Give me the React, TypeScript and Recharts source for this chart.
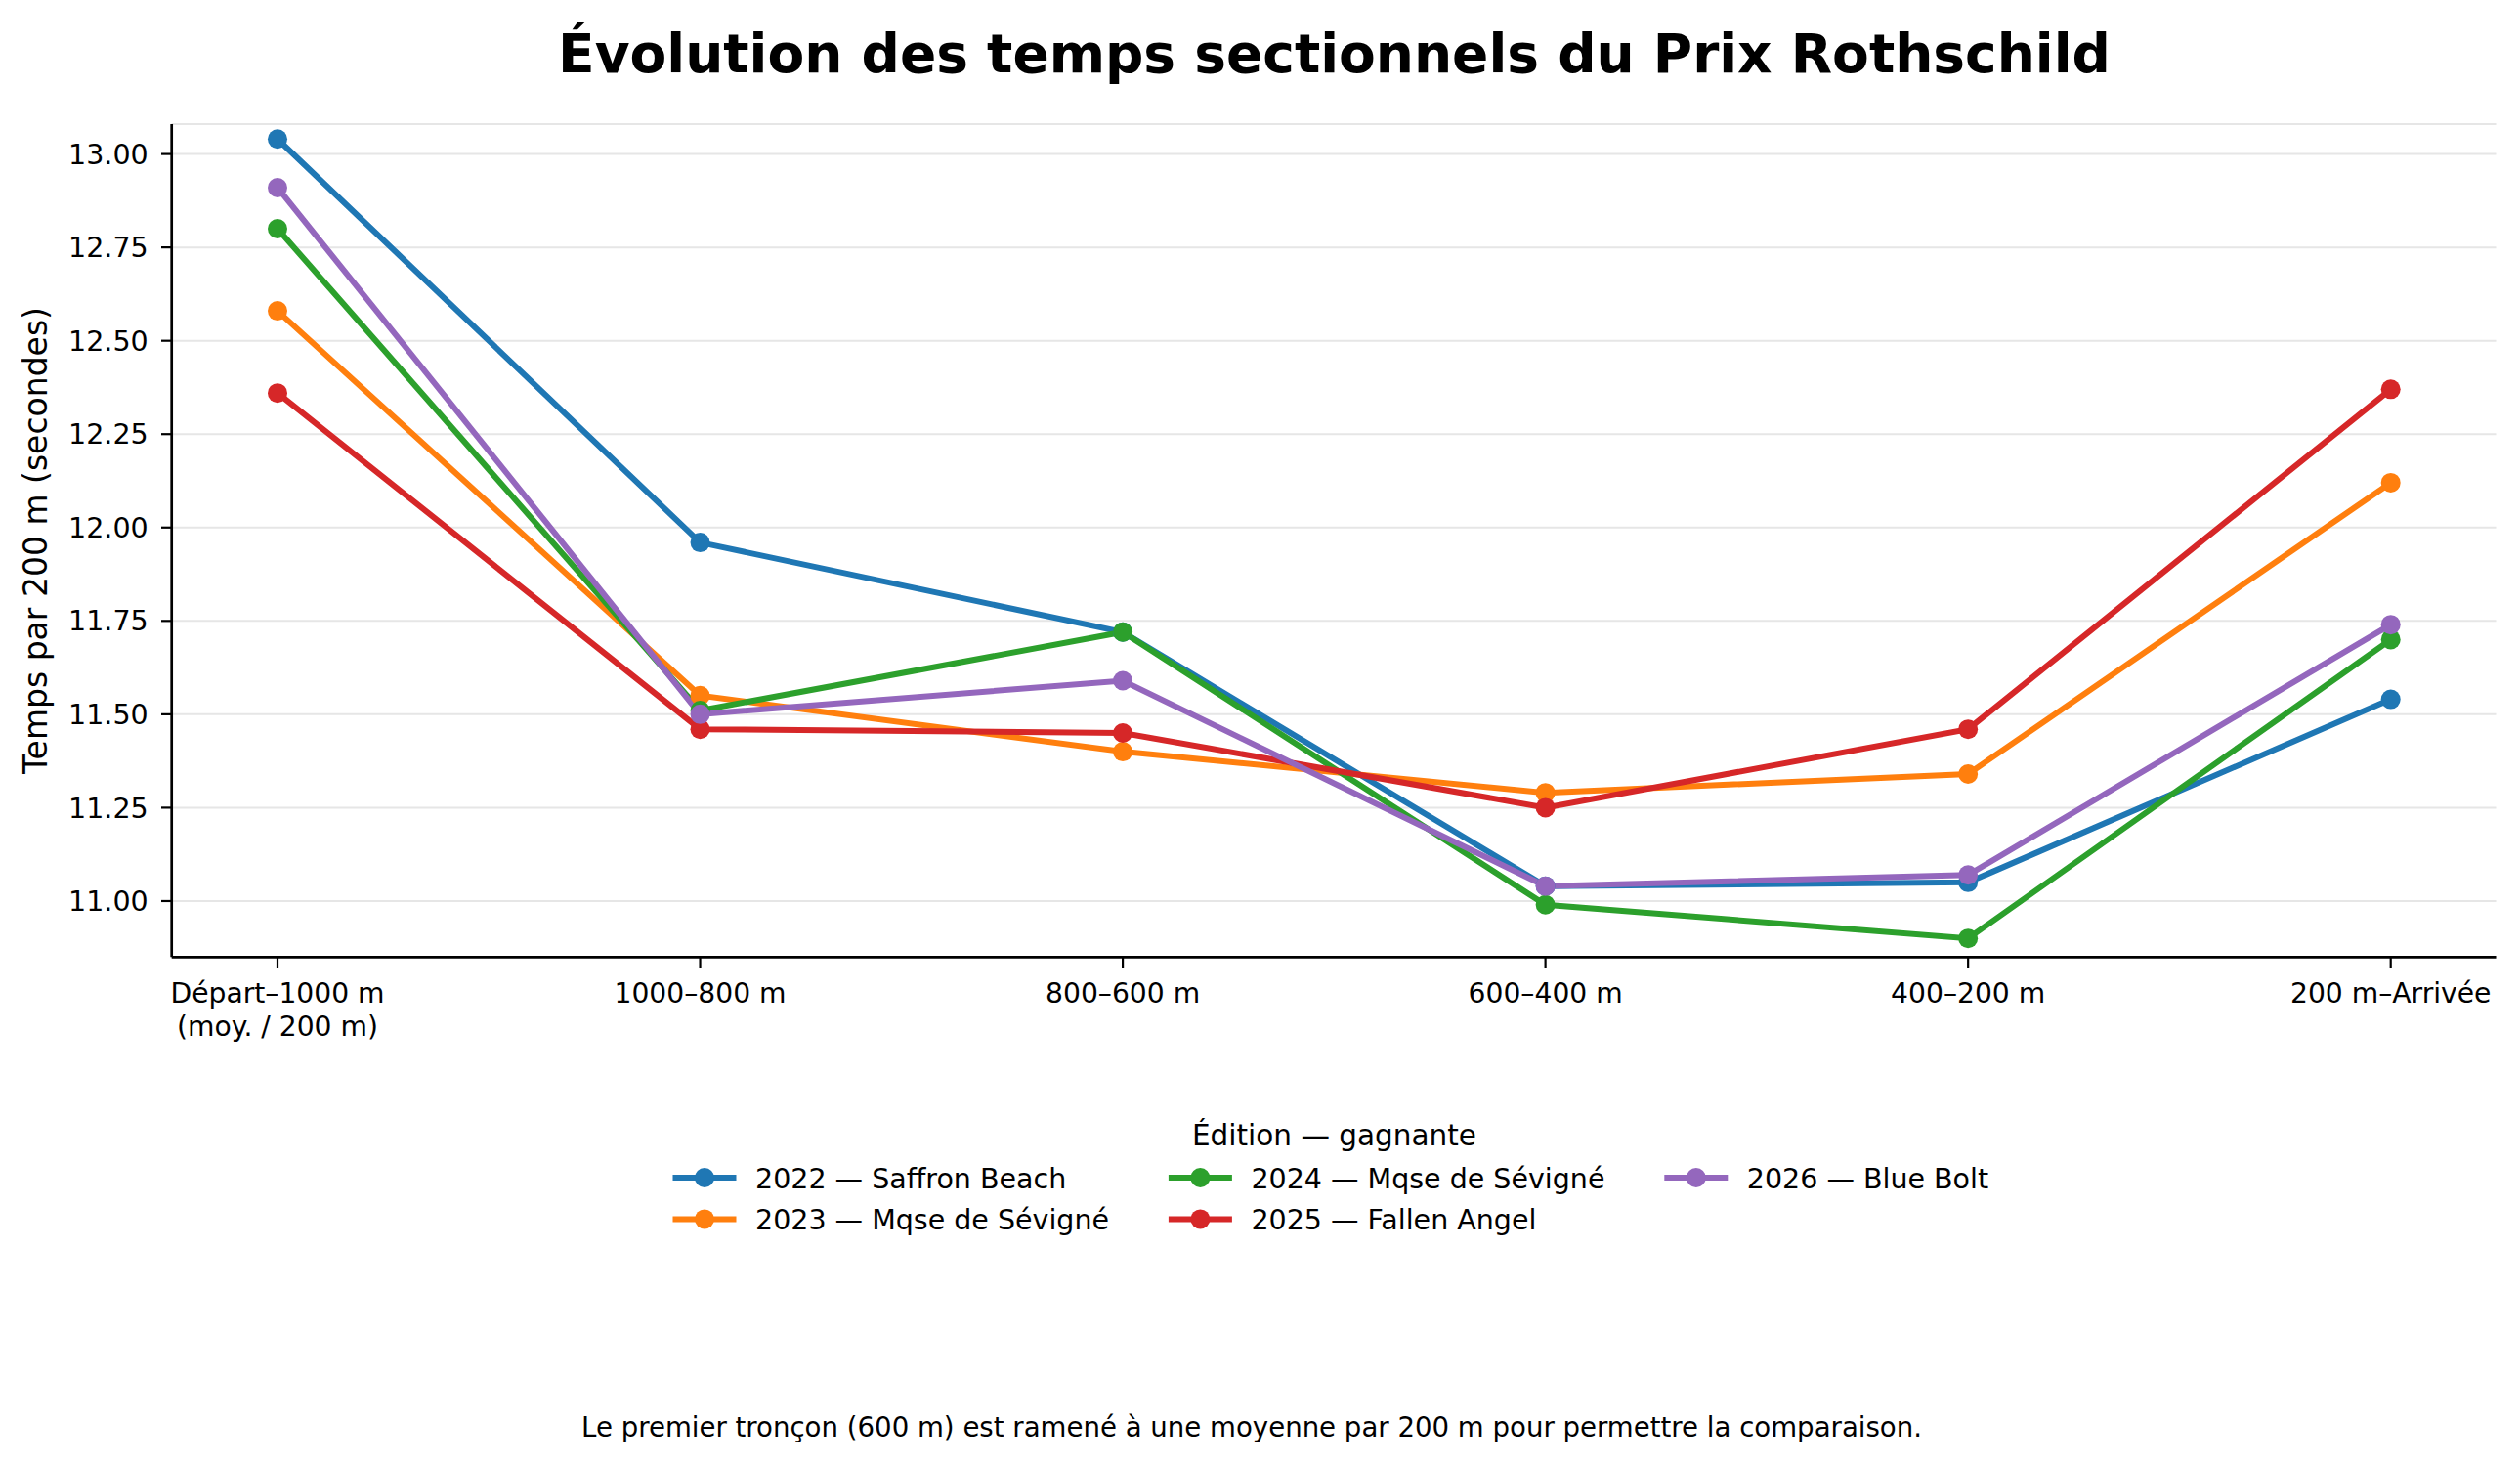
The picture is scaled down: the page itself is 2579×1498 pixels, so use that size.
import React from 'react';
import { LineChart, Line, XAxis, YAxis, CartesianGrid, Legend } from 'recharts';

// Sections of the race (x axis)
const SECTIONS = [
  'Départ–1000 m\n(moy. / 200 m)',
  '1000–800 m',
  '800–600 m',
  '600–400 m',
  '400–200 m',
  '200 m–Arrivée',
];

// Seconds per 200 m, one list per edition
const T2022 = [13.04, 11.96, 11.72, 11.04, 11.05, 11.54];
const T2023 = [12.58, 11.55, 11.40, 11.29, 11.34, 12.12];
const T2024 = [12.80, 11.51, 11.72, 10.99, 10.90, 11.70];
const T2025 = [12.36, 11.46, 11.45, 11.25, 11.46, 12.37];
const T2026 = [12.91, 11.50, 11.59, 11.04, 11.07, 11.74];

const EDITIONS = [
  '2022 — Saffron Beach',
  '2023 — Mqse de Sévigné',
  '2024 — Mqse de Sévigné',
  '2025 — Fallen Angel',
  '2026 — Blue Bolt',
];

const Y_TICKS = [11, 11.25, 11.5, 11.75, 12, 12.25, 12.5, 12.75, 13];

const COLORS = ['#1f77b4', '#ff7f0e', '#2ca02c', '#d62728', '#9467bd'];
const FONT = '"DejaVu Sans", sans-serif';

const SERIES = [T2022, T2023, T2024, T2025, T2026].map((values, i) => ({
  key: `e${i}`,
  name: EDITIONS[i],
  color: COLORS[i],
  values,
}));

const data = SECTIONS.map((section, i) => {
  const row: Record<string, string | number> = { section };
  SERIES.forEach((s) => {
    row[s.key] = s.values[i];
  });
  return row;
});

const SectionTick = ({ x, y, payload }: any) => {
  const lines = String(payload.value).split('\n');
  return (
    <text x={x} y={y} textAnchor="middle" fontSize={28.2} fill="#000" fontFamily={FONT}>
      {lines.map((l, i) => (
        <tspan key={i} x={x} dy={i === 0 ? 35.7 : 34.3}>
          {l}
        </tspan>
      ))}
    </text>
  );
};

const YLabel = () => (
  <text
    x={36}
    y={553}
    transform="rotate(-90, 36, 553)"
    textAnchor="middle"
    dominantBaseline="central"
    fontSize={33}
    fill="#000"
    fontFamily={FONT}
  >
    Temps par 200 m (secondes)
  </text>
);

// matplotlib-like legend: 3 columns, filled column by column
const EditionLegend = ({ payload }: any) => {
  const items = payload ?? [];
  const perCol = Math.ceil(items.length / 3);
  return (
    <svg width={2579} height={160} style={{ display: 'block' }}>
      <text x={1365.5} y={41.7} textAnchor="middle" fontSize={29.5} fill="#000" fontFamily={FONT}>
        Édition — gagnante
      </text>
      {items.map((entry: any, i: number) => {
        const col = Math.floor(i / perCol);
        const row = i % perCol;
        const x0 = 688.5 + col * 507.4;
        const cy = 75 + row * 42.4;
        return (
          <g key={entry.value}>
            <line x1={x0} x2={x0 + 65} y1={cy} y2={cy} stroke={entry.color} strokeWidth={6} />
            <circle cx={x0 + 32.5} cy={cy} r={10} fill={entry.color} />
            <text x={x0 + 84.5} y={cy + 11} fontSize={28.5} fill="#000" fontFamily={FONT}>
              {entry.value}
            </text>
          </g>
        );
      })}
    </svg>
  );
};

export default function App() {
  return (
    <div
      style={{
        position: 'absolute',
        left: 0,
        top: 0,
        width: 2579,
        height: 1498,
        background: '#fff',
        fontFamily: FONT,
      }}
    >
      <LineChart
        width={2579}
        height={1498}
        data={data}
        margin={{ top: 127, right: 24.5, left: 0, bottom: 418.7 }}
      >
        <CartesianGrid vertical={false} stroke="#e6e6e6" strokeWidth={2} />
        <XAxis
          dataKey="section"
          scale="point"
          padding={{ left: 108.3, right: 107.8 }}
          interval={0}
          height={100}
          tick={<SectionTick />}
          tickSize={10.7}
          tickMargin={0}
          axisLine={{ stroke: '#000', strokeWidth: 2.7 }}
          tickLine={{ stroke: '#000', strokeWidth: 2.2 }}
        />
        <YAxis
          type="number"
          domain={[10.85, 13.08]}
          allowDataOverflow
          ticks={Y_TICKS}
          width={175.7}
          tickFormatter={(v: number) => v.toFixed(2)}
          tick={{ fontSize: 28.5, fill: '#000', fontFamily: FONT }}
          tickSize={10.7}
          tickMargin={13.3}
          axisLine={{ stroke: '#000', strokeWidth: 2.7 }}
          tickLine={{ stroke: '#000', strokeWidth: 2.2 }}
          label={<YLabel />}
        />
        {SERIES.map((s) => (
          <Line
            key={s.key}
            type="linear"
            dataKey={s.key}
            name={s.name}
            stroke={s.color}
            strokeWidth={6}
            dot={{ r: 10, fill: s.color, stroke: s.color, strokeWidth: 0 }}
            activeDot={false}
            isAnimationActive={false}
          />
        ))}
        <Legend
          layout="horizontal"
          verticalAlign="middle"
          align="center"
          content={<EditionLegend />}
          wrapperStyle={{ top: 1130, left: 0, width: 2579, height: 160 }}
        />
      </LineChart>
      <svg
        width={2579}
        height={1498}
        style={{ position: 'absolute', left: 0, top: 0, pointerEvents: 'none' }}
      >
        <text
          x={1365.5}
          y={74}
          textAnchor="middle"
          fontSize={55}
          fontWeight="bold"
          fill="#000"
          fontFamily={FONT}
        >
          Évolution des temps sectionnels du Prix Rothschild
        </text>
        <text x={1281} y={1470} textAnchor="middle" fontSize={27.6} fill="#000" fontFamily={FONT}>
          Le premier tronçon (600 m) est ramené à une moyenne par 200 m pour permettre la comparaison.
        </text>
      </svg>
    </div>
  );
}
